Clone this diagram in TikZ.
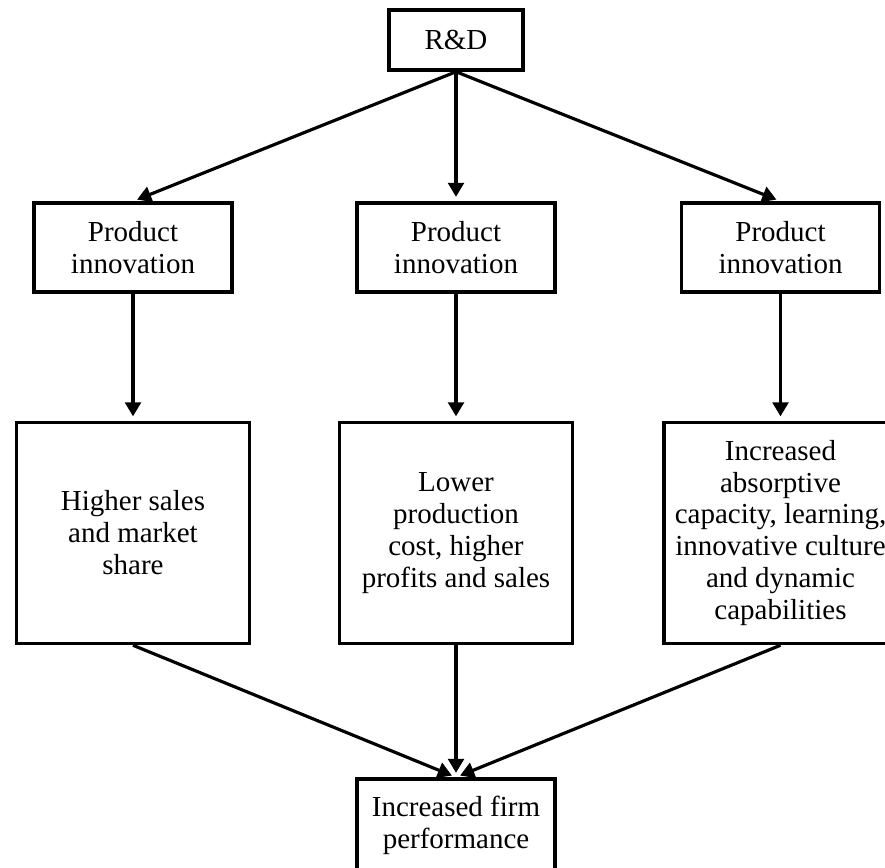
\documentclass[tikz,border=0pt]{standalone}
\usepackage{fontspec}
\setmainfont{Liberation Serif}
\usetikzlibrary{arrows.meta,positioning}

\begin{document}
\begin{tikzpicture}[>={Triangle[length=8pt,width=9pt]}, semithick,
    box/.style={draw, line width=2pt, inner sep=0pt, align=center, font=\fontsize{16.5}{18.2}\selectfont},
    small box/.style={box, minimum width=3.96cm, minimum height=1.78cm},
    big box/.style={box, minimum width=4.66cm, minimum height=4.42cm},
    link/.style={->, line width=1.8pt, shorten >=2.5pt}]

    \useasboundingbox (0,0) rectangle (17.7,-17.36);

    \node[box, minimum width=2.68cm, minimum height=1.2cm] (rd) at (9.12,-0.8) {R\&D};

    \node[small box]    (innovB)   [below of=rd, node distance=4.15cm]      {Product\\innovation};
    \node[small box]    (innovA)   [left of=innovB, node distance=6.46cm]   {Product\\innovation};
    \node[small box]    (innovC)   [right of=innovB, node distance=6.49cm]  {Product\\innovation};

    \node[big box]      (sales)    [below of=innovA, node distance=5.71cm]  {Higher sales\\and market\\share};
    \node[big box]      (cost)     [below of=innovB, node distance=5.71cm]  {Lower\\production\\cost, higher\\profits and sales};
    \node[big box]      (capab)    [below of=innovC, node distance=5.71cm]  {Increased\\absorptive\\capacity, learning,\\innovative culture\\and dynamic\\capabilities};

    \node[small box, minimum height=1.84cm]  (perf)  [below of=cost, node distance=5.84cm]  {Increased firm\\performance};

    \path[link] (rd.south)     edge  (innovA.north)
                               edge  (innovB.north)
                               edge  (innovC.north);

    \path[link] (innovA.south) edge  (sales.north)
                (innovB.south) edge  (cost.north)
                (innovC.south) edge  (capab.north);

    \path[link] (sales.south)  edge  (perf.north)
                (cost.south)   edge  (perf.north)
                (capab.south)  edge  (perf.north);

\end{tikzpicture}
\end{document}
